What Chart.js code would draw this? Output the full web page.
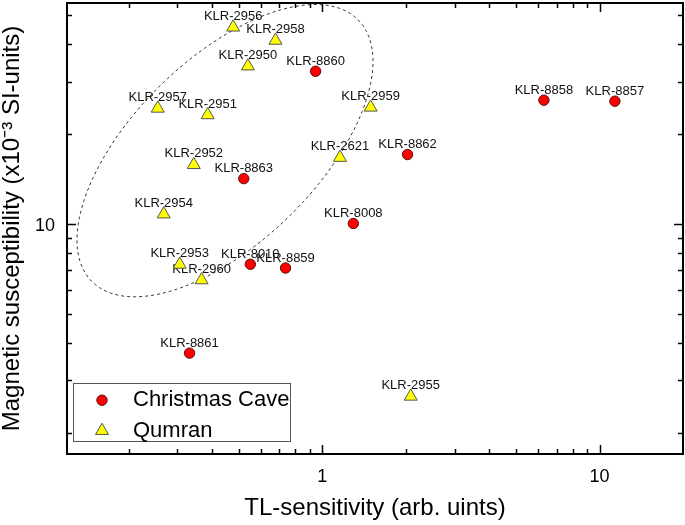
<!DOCTYPE html>
<html><head><meta charset="utf-8">
<script src="https://cdn.jsdelivr.net/npm/chart.js@4/dist/chart.umd.min.js"></script>
<style>html,body{margin:0;padding:0;background:#fff}#wrap{width:685px;height:525px;position:relative}</style>
</head><body><div id="wrap"><canvas id="c"></canvas></div>
<script>
// ---- data ----
const christmasNames = ['KLR-8860','KLR-8858','KLR-8857','KLR-8862','KLR-8863','KLR-8008','KLR-8010','KLR-8859','KLR-8861'];
const christmasTL    = [0.946, 6.30, 11.36, 2.03, 0.521, 1.294, 0.550, 0.737, 0.332];
const christmasMS    = [32.5, 26.0, 25.8, 17.1, 14.2, 10.05, 7.34, 7.13, 3.70];

const qumranNames = ['KLR-2956','KLR-2958','KLR-2950','KLR-2957','KLR-2951','KLR-2959','KLR-2952','KLR-2621','KLR-2954','KLR-2953','KLR-2960','KLR-2955'];
const qumranTL    = [0.477, 0.678, 0.539, 0.255, 0.386, 1.494, 0.344, 1.158, 0.268, 0.306, 0.367, 2.084];
const qumranMS    = [45.6, 41.2, 33.8, 24.4, 23.2, 24.6, 15.8, 16.7, 10.8, 7.33, 6.50, 2.65];

const xLabelTicks = [1, 10];
const xMinorTicks = [0.2,0.3,0.4,0.5,0.6,0.7,0.8,0.9,2,3,4,5,6,7,8,9];
const yLabelTicks = [10];
const yMinorTicks = [2,3,4,5,6,7,8,9,20,30,40,50];

// Qumran grouping ellipse (in log-decade space): centre and two semi-axis vectors
const ellipseCenter = [0.4457, 17.62];
const ellipseAxisU = [0.480, 0.438];
const ellipseAxisV = [0.2335, -0.218];

const FONT = '"Liberation Sans", Arial, Helvetica, sans-serif';
Chart.defaults.font.family = FONT;
Chart.defaults.color = '#000';

const toPts = (xs, ys) => xs.map((x, i) => ({x, y: ys[i]}));

const pointLabels = {
  id: 'pointLabels',
  beforeDatasetsDraw(chart) {
    const ctx = chart.ctx;
    ctx.save();
    ctx.font = '13px ' + FONT;
    ctx.fillStyle = '#111';
    ctx.textAlign = 'center';
    ctx.textBaseline = 'middle';
    chart.data.datasets.forEach((ds, di) => {
      const meta = chart.getDatasetMeta(di);
      meta.data.forEach((el, i) => {
        ctx.fillText(ds.names[i], el.x, el.y - ds.labelOffset);
      });
    });
    ctx.restore();
  }
};

const ellipsePlugin = {
  id: 'ellipse',
  beforeDatasetsDraw(chart) {
    const {ctx, chartArea} = chart;
    const xs = chart.scales.x, ys = chart.scales.y;
    const lcx = Math.log10(ellipseCenter[0]), lcy = Math.log10(ellipseCenter[1]);
    ctx.save();
    ctx.beginPath();
    ctx.rect(chartArea.left, chartArea.top, chartArea.right - chartArea.left, chartArea.bottom - chartArea.top);
    ctx.clip();
    ctx.beginPath();
    const N = 240;
    for (let k = 0; k <= N; k++) {
      const t = 2 * Math.PI * k / N;
      const lx = lcx + ellipseAxisU[0] * Math.cos(t) + ellipseAxisV[0] * Math.sin(t);
      const ly = lcy + ellipseAxisU[1] * Math.cos(t) + ellipseAxisV[1] * Math.sin(t);
      const px = xs.getPixelForValue(Math.pow(10, lx));
      const py = ys.getPixelForValue(Math.pow(10, ly));
      if (k === 0) ctx.moveTo(px, py); else ctx.lineTo(px, py);
    }
    ctx.setLineDash([3, 3]);
    ctx.strokeStyle = '#333';
    ctx.lineWidth = 1;
    ctx.stroke();
    ctx.restore();
  }
};

const framePlugin = {
  id: 'frame',
  afterDatasetsDraw(chart) {
    const {ctx, chartArea: a} = chart;
    const xs = chart.scales.x, ys = chart.scales.y;
    ctx.save();
    ctx.strokeStyle = '#000';
    ctx.lineWidth = 1.5;
    const xt = (vals, len) => vals.forEach(v => {
      const p = Math.round(xs.getPixelForValue(v)) + 0.5;
      ctx.beginPath(); ctx.moveTo(p, a.bottom); ctx.lineTo(p, a.bottom - len); ctx.stroke();
      ctx.beginPath(); ctx.moveTo(p, a.top); ctx.lineTo(p, a.top + len); ctx.stroke();
    });
    const yt = (vals, len) => vals.forEach(v => {
      const p = Math.round(ys.getPixelForValue(v)) + 0.5;
      ctx.beginPath(); ctx.moveTo(a.left, p); ctx.lineTo(a.left + len, p); ctx.stroke();
      ctx.beginPath(); ctx.moveTo(a.right, p); ctx.lineTo(a.right - len, p); ctx.stroke();
    });
    xt(xLabelTicks, 9); xt(xMinorTicks, 5);
    yt(yLabelTicks, 9); yt(yMinorTicks, 5);
    ctx.lineWidth = 2;
    ctx.strokeRect(a.left, a.top, a.right - a.left, a.bottom - a.top);

    // tick labels
    ctx.fillStyle = '#000';
    ctx.font = '18px ' + FONT;
    ctx.textBaseline = 'alphabetic';
    ctx.textAlign = 'center';
    xLabelTicks.forEach(v => ctx.fillText(String(v), xs.getPixelForValue(v), a.bottom + 27.5));
    ctx.textAlign = 'right';
    yLabelTicks.forEach(v => ctx.fillText(String(v), a.left - 12, ys.getPixelForValue(v) + 6.5));
    ctx.restore();
  }
};

const legendPlugin = {
  id: 'boxLegend',
  afterDraw(chart) {
    const {ctx, chartArea: a} = chart;
    const w = 217, h = 58;
    const left = a.left + 6.5, top = a.bottom - 12.5 - h;
    ctx.save();
    ctx.fillStyle = '#fff';
    ctx.fillRect(left, top, w, h);
    ctx.strokeStyle = '#555';
    ctx.lineWidth = 1;
    ctx.strokeRect(left, top, w, h);
    const rows = [top + 16.7, top + 47.2];
    chart.data.datasets.forEach((ds, i) => {
      const cx = left + 28.5, cy = rows[i];
      ctx.beginPath();
      if (ds.pointStyle === 'triangle') {
        const r = ds.pointRadius;
        for (let k = 0; k < 3; k++) {
          const ang = k * 2 * Math.PI / 3;
          const px = cx + Math.sin(ang) * r, py = cy - Math.cos(ang) * r;
          if (k === 0) ctx.moveTo(px, py); else ctx.lineTo(px, py);
        }
        ctx.closePath();
      } else {
        ctx.arc(cx, cy, ds.pointRadius, 0, 2 * Math.PI);
      }
      ctx.fillStyle = ds.backgroundColor;
      ctx.fill();
      ctx.strokeStyle = ds.borderColor;
      ctx.lineWidth = ds.borderWidth;
      ctx.stroke();
      ctx.fillStyle = '#000';
      ctx.font = '22px ' + FONT;
      ctx.textAlign = 'left';
      ctx.textBaseline = 'middle';
      ctx.fillText(ds.label, left + 59.5, cy);
    });
    ctx.restore();
  }
};

new Chart(document.getElementById('c'), {
  type: 'scatter',
  data: {
    datasets: [
      {
        label: 'Christmas Cave',
        names: christmasNames,
        labelOffset: 10,
        data: toPts(christmasTL, christmasMS),
        pointStyle: 'circle',
        pointRadius: 5.2,
        backgroundColor: '#ff0000',
        borderColor: '#5a1010',
        borderWidth: 1
      },
      {
        label: 'Qumran',
        names: qumranNames,
        labelOffset: 11,
        data: toPts(qumranTL, qumranMS),
        pointStyle: 'triangle',
        pointRadius: 7.5,
        backgroundColor: '#ffff00',
        borderColor: '#555',
        borderWidth: 1
      }
    ]
  },
  options: {
    responsive: true,
    maintainAspectRatio: false,
    animation: false,
    layout: {autoPadding: false, padding: {top: 3, right: 2, left: 0, bottom: 0}},
    plugins: {legend: {display: false}, tooltip: {enabled: false}},
    elements: {point: {hoverRadius: 5}},
    scales: {
      x: {
        type: 'logarithmic', position: 'bottom', min: 0.12, max: 20,
        afterFit: s => { s.height = 71; },
        grid: {display: false, drawTicks: false},
        border: {display: false},
        ticks: {display: false},
        title: {display: true, text: 'TL-sensitivity (arb. uints)', font: {size: 24}, color: '#000', padding: {top: 0, bottom: 2}}
      },
      y: {
        type: 'logarithmic', position: 'left', min: 1.7, max: 55,
        afterFit: s => { s.width = 67; },
        grid: {display: false, drawTicks: false},
        border: {display: false},
        ticks: {display: false},
        title: {display: true, text: 'Magnetic susceptibility (x10\u207B\u00B3 SI-units)', font: {size: 24, lineHeight: 1}, color: '#000', padding: {top: 0, bottom: 0}}
      }
    }
  },
  plugins: [ellipsePlugin, pointLabels, framePlugin, legendPlugin]
});
</script>
</body></html>
